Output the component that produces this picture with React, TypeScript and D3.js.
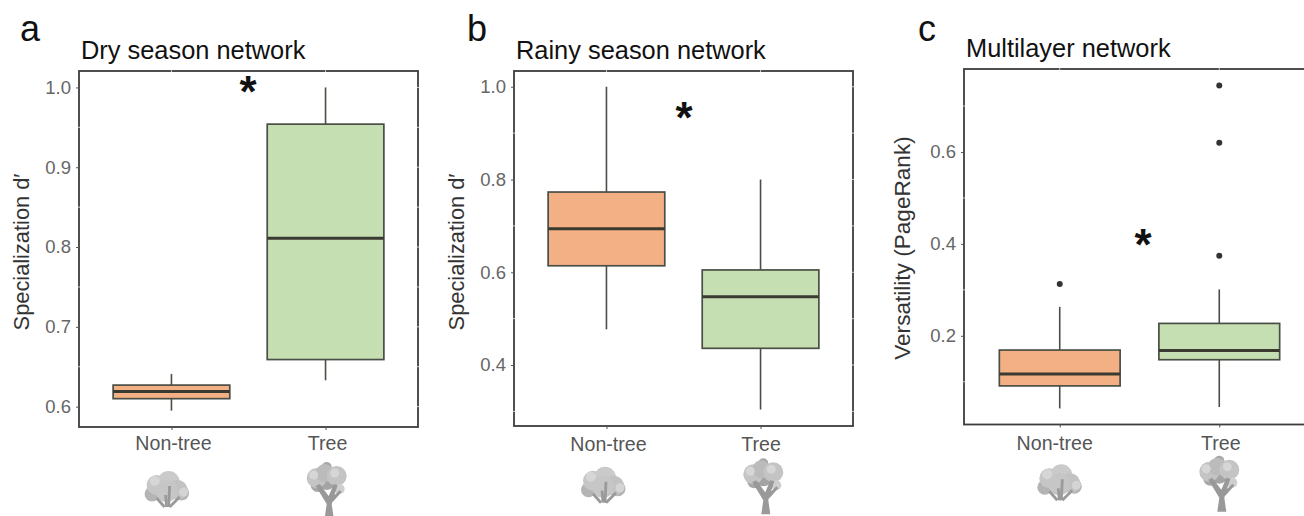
import React, { useEffect, useRef } from 'react';
import * as d3 from 'd3';

// Values
const categories = ['Non-tree', 'Tree'];

// [lower whisker, q1, median, q3, upper whisker]
const dryNonTree = [0.595, 0.61, 0.619, 0.627, 0.641];
const dryTree = [0.633, 0.659, 0.811, 0.954, 1.0];
const rainyNonTree = [0.477, 0.614, 0.694, 0.773, 1.0];
const rainyTree = [0.304, 0.436, 0.547, 0.605, 0.8];
const multiNonTree = [0.042, 0.091, 0.117, 0.169, 0.263];
const multiTree = [0.045, 0.148, 0.168, 0.227, 0.301];

const multiNonTreeOutliers = [0.313];
const multiTreeOutliers = [0.374, 0.62, 0.745];

const dryTicks = [0.6, 0.7, 0.8, 0.9, 1.0];
const rainyTicks = [0.4, 0.6, 0.8, 1.0];
const multiTicks = [0.2, 0.4, 0.6];

const fills = ['#F3B084', '#C5DFB3'];
const FONT = '"Liberation Sans", Arial, sans-serif';

const panels = [
  {
    letter: 'a', letterX: 20, title: 'Dry season network', titleX: 81, titleY: 59,
    yLabel: 'Specialization d\u2032', yLabelX: 29, yLabelY: 252, yLabelSize: 21.8,
    left: 79, right: 418, top: 71, bottom: 427,
    domain: [0.5745, 1.0206], ticks: dryTicks,
    stats: [dryNonTree, dryTree], outliers: [[], []],
    labelShift: [2, 2], labelY: 450,
    star: [248, 86],
    bush: [144.6, 471], tree: [306.7, 462],
  },
  {
    letter: 'b', letterX: 467, title: 'Rainy season network', titleX: 516, titleY: 59,
    yLabel: 'Specialization d\u2032', yLabelX: 464, yLabelY: 252, yLabelSize: 21.8,
    left: 514, right: 853, top: 71, bottom: 426,
    domain: [0.2685, 1.034], ticks: rainyTicks,
    stats: [rainyNonTree, rainyTree], outliers: [[], []],
    labelShift: [2, 0.5], labelY: 450.5,
    star: [684, 112],
    bush: [581, 466.7], tree: [743.3, 458.3],
  },
  {
    letter: 'c', letterX: 918, title: 'Multilayer network', titleX: 966, titleY: 57,
    yLabel: 'Versatility (PageRank)', yLabelX: 910, yLabelY: 248, yLabelSize: 22.6,
    left: 964, right: 1315, top: 69, bottom: 424.5,
    domain: [0.007, 0.7807], ticks: multiTicks,
    stats: [multiNonTree, multiTree], outliers: [multiNonTreeOutliers, multiTreeOutliers],
    labelShift: [-5, 1.5], labelY: 449.5,
    star: [1143, 239],
    bush: [1037.3, 464.3], tree: [1199.3, 455.7],
  },
];

// Grey shrub icon under "Non-tree"
const drawBush = (g) => {
  const blobs = [
    [7.5, 23, 7.5, '#b4b4b4'], [37, 22, 7.5, '#b4b4b4'], [12, 14, 10, '#c6c6c6'], [24, 11, 11, '#cacaca'],
    [33, 19, 10, '#c2c2c2'], [22, 20, 11, '#c6c6c6'], [39, 21, 4.5, '#d4d4d4'], [10, 10, 5, '#d6d6d6'],
  ];
  blobs.forEach(([cx, cy, r, c]) => g.append('circle').attr('cx', cx).attr('cy', cy).attr('r', r).attr('fill', c));
  const stems = ['M20 36 L12 27', 'M22 36 L21 24', 'M24 36 L25 15', 'M25 36 L35 26'];
  stems.forEach(d => g.append('path').attr('d', d).attr('stroke', '#9a9a9a').attr('stroke-width', 2.8).attr('fill', 'none'));
};

// Grey tree icon under "Tree"
const drawTree = (g) => {
  const blobs = [
    [20, 5, 5, '#a8a8a8'], [11, 23, 7, '#a8a8a8'], [20, 19, 9, '#a4a4a4'],
    [10, 16, 10, '#c4c4c4'], [18, 11, 9, '#bbbbbb'], [30, 14, 10, '#c4c4c4'], [33, 27, 5, '#cfcfcf'],
    [7, 13, 4.5, '#d6d6d6'], [28, 11, 4.5, '#d6d6d6'],
  ];
  blobs.forEach(([cx, cy, r, c]) => g.append('circle').attr('cx', cx).attr('cy', cy).attr('r', r).attr('fill', c));
  g.append('path')
    .attr('d', 'M18 56 L20 42 L9 24 L13 22 L22 34 L27 22 L31 23 L25 42 L27 56 Z M25 36 L33 28 L35 30 L26 40 Z')
    .attr('fill', '#999999');
};

export default function App() {
  const ref = useRef(null);

  useEffect(() => {
    const svg = d3.select(ref.current);
    svg.selectAll('*').remove();

    panels.forEach((p) => {
      const x = d3.scalePoint().domain(categories).range([p.left, p.right]).padding(0.6);
      const y = d3.scaleLinear().domain(p.domain).range([p.bottom, p.top]);
      const boxWidth = x.step() * 0.757;
      const g = svg.append('g');

      // Panel letter and title
      g.append('text').attr('x', p.letterX).attr('y', 41)
        .attr('font-size', 36).attr('fill', '#111').text(p.letter);
      g.append('text').attr('x', p.titleX).attr('y', p.titleY)
        .attr('font-size', 25.4).attr('fill', '#111').text(p.title);

      // Boxes
      p.stats.forEach((s, i) => {
        const cx = x(categories[i]);
        const [lo, q1, med, q3, hi] = s;
        const line = g.append('g').attr('stroke', '#4a4f45');
        line.append('line').attr('x1', cx).attr('x2', cx).attr('y1', y(hi)).attr('y2', y(q3)).attr('stroke-width', 1.6);
        line.append('line').attr('x1', cx).attr('x2', cx).attr('y1', y(q1)).attr('y2', y(lo)).attr('stroke-width', 1.6);
        line.append('rect')
          .attr('x', cx - boxWidth / 2).attr('width', boxWidth)
          .attr('y', y(q3)).attr('height', y(q1) - y(q3))
          .attr('fill', fills[i]).attr('stroke-width', 1.7);
        line.append('line')
          .attr('x1', cx - boxWidth / 2).attr('x2', cx + boxWidth / 2)
          .attr('y1', y(med)).attr('y2', y(med))
          .attr('stroke', '#3a3a30').attr('stroke-width', 3);
        p.outliers[i].forEach((v) => {
          g.append('circle').attr('cx', cx).attr('cy', y(v)).attr('r', 3).attr('fill', '#333');
        });
      });

      // Panel border
      g.append('rect')
        .attr('x', p.left).attr('y', p.top)
        .attr('width', p.right - p.left).attr('height', p.bottom - p.top)
        .attr('fill', 'none').attr('stroke', '#3c3c3c').attr('stroke-width', 1.8);

      // White grid stubs nick the border at the major and minor grid positions
      const half = (p.ticks[1] - p.ticks[0]) / 2;
      const minor = [p.ticks[0] - half, ...p.ticks.map(t => t + half)].filter(v => v > p.domain[0] && v < p.domain[1]);
      const nicks = g.append('g').attr('stroke', '#fff').attr('stroke-width', 1).attr('opacity', 0.7);
      minor.forEach((v) => {
        nicks.append('line').attr('x1', p.left - 2).attr('x2', p.left + 2).attr('y1', y(v)).attr('y2', y(v));
      });
      [...minor, ...p.ticks].forEach((v) => {
        nicks.append('line').attr('x1', p.right - 2).attr('x2', p.right + 2).attr('y1', y(v)).attr('y2', y(v));
      });
      categories.forEach((c) => {
        nicks.append('line').attr('x1', x(c)).attr('x2', x(c)).attr('y1', p.top - 2).attr('y2', p.top + 2);
      });

      // Axes
      const yAxis = g.append('g')
        .attr('transform', `translate(${p.left}, 0)`)
        .call(d3.axisLeft(y).tickValues(p.ticks).tickSize(3).tickPadding(5).tickFormat(d3.format('.1f')));
      yAxis.select('.domain').remove();
      yAxis.selectAll('line').attr('stroke', '#555');
      yAxis.selectAll('text')
        .attr('font-family', FONT).attr('font-size', 18.5).attr('fill', '#666');

      const xAxis = g.append('g')
        .attr('transform', `translate(0, ${p.bottom})`)
        .call(d3.axisBottom(x).tickSize(3).tickFormat(() => ''));
      xAxis.select('.domain').remove();
      xAxis.selectAll('line').attr('stroke', '#555');

      // Category labels sit slightly off their ticks in the original
      categories.forEach((c, i) => {
        g.append('text')
          .attr('x', x(c) + p.labelShift[i]).attr('y', p.labelY)
          .attr('text-anchor', 'middle')
          .attr('font-size', 19.6).attr('fill', '#555').text(c);
      });

      // Y axis label
      g.append('text')
        .attr('transform', `translate(${p.yLabelX}, ${p.yLabelY}) rotate(-90)`)
        .attr('text-anchor', 'middle')
        .attr('font-size', p.yLabelSize).attr('fill', '#333').text(p.yLabel);

      // Significance star
      g.append('text')
        .attr('x', p.star[0]).attr('y', p.star[1] + 21)
        .attr('text-anchor', 'middle')
        .attr('font-size', 44).attr('font-weight', 'bold').attr('fill', '#111').text('*');

      // Icons
      drawBush(g.append('g').attr('transform', `translate(${p.bush[0]}, ${p.bush[1]})`));
      drawTree(g.append('g').attr('transform', `translate(${p.tree[0]}, ${p.tree[1]})`));
    });
  }, []);

  return (
    <svg
      ref={ref}
      width={1304}
      height={516}
      style={{ position: 'absolute', left: 0, top: 0, background: '#fff' }}
      fontFamily={FONT}
    />
  );
}
